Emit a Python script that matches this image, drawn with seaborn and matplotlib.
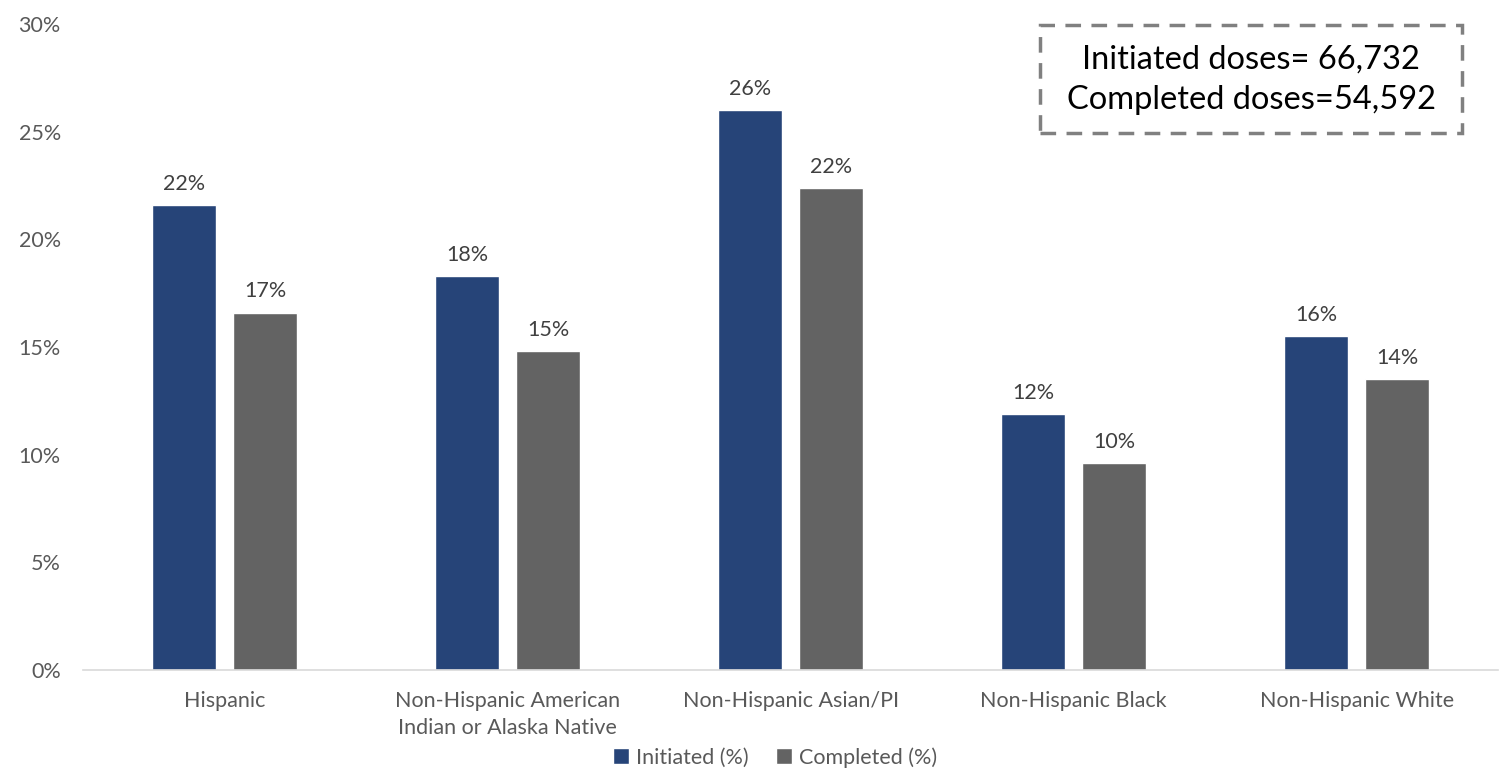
import matplotlib
matplotlib.use('Agg')
import matplotlib.pyplot as plt
import matplotlib.patches as mpatches
import pandas as pd
import seaborn as sns
from matplotlib.ticker import PercentFormatter

# Data
groups = ['Hispanic', 'Non-Hispanic American\nIndian or Alaska Native', 'Non-Hispanic Asian/PI',
          'Non-Hispanic Black', 'Non-Hispanic White']
initiated = [21.6, 18.3, 26.0, 11.9, 15.5]
completed = [16.6, 14.8, 22.4, 9.6, 13.5]
series = ['Initiated (%)', 'Completed (%)']
colors = ['#264478', '#636363']

df = pd.DataFrame({
    'group': groups * 2,
    'value': initiated + completed,
    'series': [series[0]] * len(groups) + [series[1]] * len(groups),
})

sns.set_style('white')
plt.rcParams['font.family'] = ['Lato', 'DejaVu Sans']

fig = plt.figure(figsize=(14.99, 7.78), dpi=100)
ax = fig.add_axes([0.0554, 0.1388, 0.944, 0.8303])

sns.barplot(data=df, x='group', y='value', hue='series', palette=colors,
            width=0.572, gap=0.21, ax=ax, legend=True, saturation=1)

for cont in ax.containers:
    ax.bar_label(cont, labels=[f'{v:.0f}%' for v in cont.datavalues],
                 padding=8, fontsize=15.5, color='#404040')

ax.set_ylim(0, 30)
ax.set_yticks(range(0, 31, 5))
ax.yaxis.set_major_formatter(PercentFormatter(decimals=0))
ax.set_xlabel('')
ax.set_ylabel('')
ax.tick_params(axis='both', labelsize=15.5, labelcolor='#595959', length=0)
ax.tick_params(axis='y', pad=16)
ax.tick_params(axis='x', pad=15)
for lbl in ax.get_xticklabels():
    lbl.set_linespacing(1.45)
for s in ['top', 'right', 'left']:
    ax.spines[s].set_visible(False)
ax.spines['bottom'].set_color('#d9d9d9')
ax.spines['bottom'].set_linewidth(1.2)

ax.legend(loc='center', bbox_to_anchor=(0.489, -0.135), ncol=2, frameon=False,
          fontsize=15.5, labelcolor='#595959', handlelength=0.75, handleheight=0.75,
          handletextpad=0.3, columnspacing=1.3)

# dashed note box
fig.patches.append(mpatches.Rectangle((0.6938, 0.829), 0.2815, 0.1388, transform=fig.transFigure,
                                      facecolor='white', edgecolor='#808080', linewidth=2.5,
                                      linestyle=(0, (4.5, 3)), zorder=5))
fig.text(0.8346, 0.8975, 'Initiated doses= 66,732\nCompleted doses=54,592',
         ha='center', va='center', fontsize=23.5, color='black', linespacing=1.4, zorder=6)

fig.savefig('out.png', dpi=100)
